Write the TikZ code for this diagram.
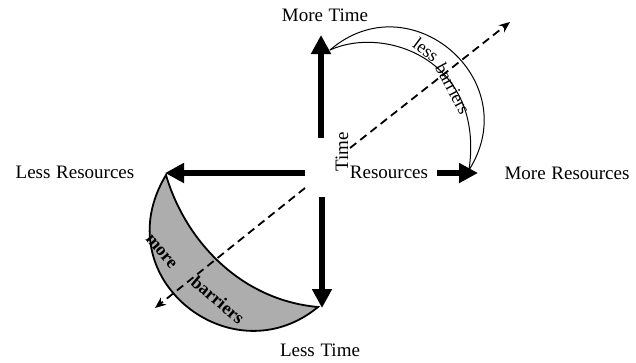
\documentclass[tikz,border=0pt]{standalone}
\usepackage{fontspec}
\setmainfont{Liberation Serif}
\usetikzlibrary{arrows.meta}
\tikzset{
  thickarrow/.style={line width=6pt, -{Triangle[length=19pt,width=19pt]}},
  dashline/.style={line width=1.8pt, dash pattern=on 8pt off 5pt, -{Stealth[length=11pt,width=9pt]}},
  axislabel/.style={font=\fontsize{19}{21}\selectfont, inner sep=0pt},
  bandlabel/.style={font=\fontsize{18}{20}\selectfont, inner sep=0pt},
  boldband/.style={font=\fontsize{18}{20}\selectfont\bfseries, inner sep=0pt},
  lensbox/.style={fill=black!32, draw=black, line width=1.8pt},
  bandline/.style={line width=1pt}
}
\begin{document}
\begin{tikzpicture}[x=1pt,y=-1pt]
\useasboundingbox (0,0) rectangle (636,362);
% coordinates
\coordinate (upS) at (321,138);
\coordinate (upT) at (321,35);
\coordinate (leftS) at (305,173);
\coordinate (leftT) at (165,173);
\coordinate (downS) at (322,197);
\coordinate (downT) at (322,308);
\coordinate (rightS) at (437,173);
\coordinate (rightT) at (478,173);
\coordinate (dA) at (305,188);
\coordinate (dAT) at (155,308);
\coordinate (dB) at (350,148);
\coordinate (dBT) at (510,22);
\coordinate (lensA) at (166,175);
\coordinate (lensB) at (318,307);
\coordinate (arcA) at (330,50);
\coordinate (arcB) at (469,170);
% lens
\path[lensbox] (lensA) .. controls (104,278) and (232,378) .. (lensB)
   .. controls (240,300) and (185,240) .. (lensA) -- cycle;
% upper band
\draw[bandline] (arcA) .. controls (410,-19) and (526,80) .. (arcB);
\draw[bandline] (arcA) .. controls (385,25) and (485,60) .. (arcB);
% thick arrows
\draw[thickarrow] (upS) -- (upT);
\draw[thickarrow] (leftS) -- (leftT);
\draw[thickarrow] (downS) -- (downT);
\draw[thickarrow] (rightS) -- (rightT);
% dashed diagonal
\draw[dashline] (dA) -- (dAT);
\draw[dashline] (dB) -- (dBT);
% labels
\node[axislabel] (moretime) at (325,15) {More\hspace{0.3em}Time};
\node[axislabel] (lesstime) at (320,350) {Less\hspace{0.3em}Time};
\node[axislabel] (lessres) at (75,172) {Less\hspace{0.3em}Resources};
\node[axislabel] (moreres) at (567,173) {More\hspace{0.3em}Resources};
\node[axislabel] (res) at (389,172) {Resources};
\node[axislabel, rotate=90] (time) at (342,152) {Time};
\node[bandlabel, rotate=-37] (less) at (426,50) {less};
\node[bandlabel, rotate=-62] (barr1) at (453,89) {barriers};
\node[boldband, rotate=-50] (more) at (161,252) {more};
\node[boldband, rotate=-40] (barr2) at (218,300) {barriers};
\end{tikzpicture}
\end{document}
